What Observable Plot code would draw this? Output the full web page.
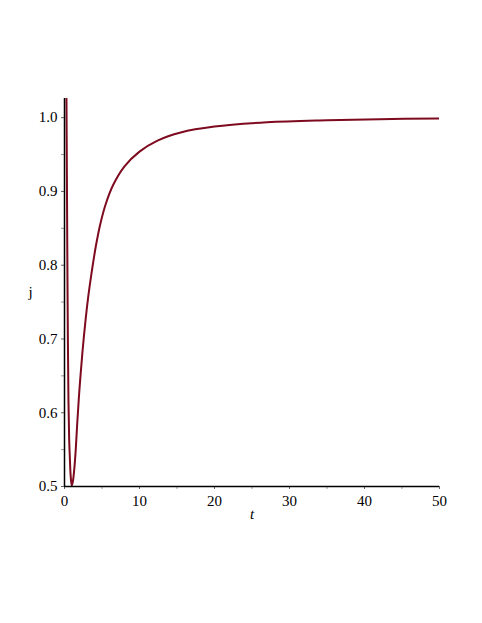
<!DOCTYPE html>
<html>
<head>
<meta charset="utf-8">
<script src="https://cdn.jsdelivr.net/npm/d3@7"></script>
<script src="https://cdn.jsdelivr.net/npm/@observablehq/plot@0.6"></script>
<style>
  html, body { margin: 0; padding: 0; background: #fff; }
  #chart svg { display: block; }
</style>
</head>
<body>
<div id="chart"></div>
<script>
// Values
const tValues = [0.26, 0.32, 0.38, 0.45, 0.53, 0.62, 0.72, 0.82, 0.97, 1.12, 1.29, 1.5, 1.7, 1.9, 2.1, 2.4, 2.8, 3.2, 3.6, 4.2, 4.8, 5.5, 6.5, 8, 10, 12.4, 15.5, 20, 27, 35, 42, 50];
const jValues = [1.03, 0.92, 0.81, 0.70, 0.615, 0.565, 0.537, 0.515, 0.501, 0.507, 0.522, 0.550, 0.586, 0.618, 0.646, 0.683, 0.725, 0.760, 0.789, 0.827, 0.857, 0.883, 0.909, 0.934, 0.954, 0.969, 0.980, 0.988, 0.9937, 0.9965, 0.998, 0.999];
const xTicks = [0, 10, 20, 30, 40, 50];
const xMinorTicks = [5, 15, 25, 35, 45];
const yTicks = [0.5, 0.6, 0.7, 0.8, 0.9, 1.0];
const yMinorTicks = [0.55, 0.65, 0.75, 0.85, 0.95];
const xLabel = "t";
const yLabel = "j";

const data = tValues.map((t, i) => ({t, j: jValues[i]}));
const font = "'Liberation Serif', 'DejaVu Serif', serif";

const chart = Plot.plot({
  width: 482,
  height: 623,
  marginLeft: 64,
  marginRight: 43,
  marginTop: 98,
  marginBottom: 137,
  style: {fontFamily: font, fontSize: "15px", color: "#000", background: "#fff"},
  x: {domain: [0, 50]},
  y: {domain: [0.5, 1.026]},
  marks: [
    Plot.axisX({ticks: xTicks, tickSize: 3, tickPadding: 6, stroke: "#666", label: null, tickFormat: d3.format("d"), fontSize: 15}),
    Plot.axisX({ticks: xMinorTicks, tickSize: 3, stroke: "#999", text: null, label: null}),
    Plot.axisY({ticks: yTicks, tickSize: 3, tickPadding: 4, stroke: "#666", label: null, tickFormat: d3.format(".1f"), fontSize: 15}),
    Plot.axisY({ticks: yMinorTicks, tickSize: 3, stroke: "#999", text: null, label: null}),
    Plot.line(data, {x: "t", y: "j", stroke: "#7d0a1e", strokeWidth: 2, curve: "catmull-rom", clip: true}),
    Plot.ruleX([0], {stroke: "#000", strokeWidth: 1.5}),
    Plot.ruleY([0.5], {stroke: "#000", strokeWidth: 1.5}),
    Plot.text([xLabel], {frameAnchor: "bottom", dy: 32, fontStyle: "italic", fontSize: 15, fill: "#000"}),
    Plot.text([yLabel], {frameAnchor: "left", dx: -36, fontSize: 15, fill: "#000"})
  ]
});
document.getElementById("chart").appendChild(chart);
</script>
</body>
</html>
